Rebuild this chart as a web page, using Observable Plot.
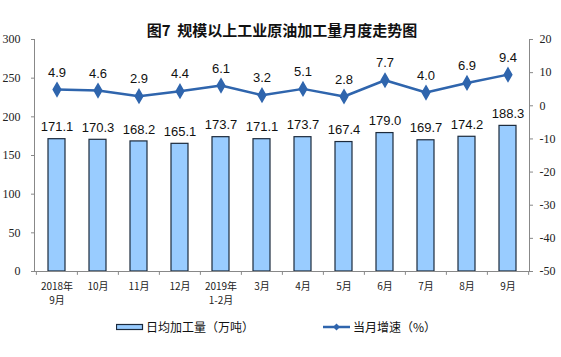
<!DOCTYPE html>
<html><head><meta charset="utf-8">
<script src="https://cdn.jsdelivr.net/npm/d3@7"></script>
<script src="https://cdn.jsdelivr.net/npm/@observablehq/plot@0.6"></script>
<style>
body{margin:0;background:#fff;}
#wrap{position:relative;width:561px;height:357px;}
.lg{position:absolute;top:318px;font-family:"Noto Sans CJK SC",sans-serif;font-size:12px;color:#111;display:flex;align-items:center;white-space:nowrap;}
</style>
</head><body>
<div id="wrap"></div>
<script>
const title = "图7  规模以上工业原油加工量月度走势图";
const categories = ["2018年\n9月","10月","11月","12月","2019年\n1-2月","3月","4月","5月","6月","7月","8月","9月"];
const dailyOutput = [171.1,170.3,168.2,165.1,173.7,171.1,173.7,167.4,179.0,169.7,174.2,188.3];
const growth = [4.9,4.6,2.9,4.4,6.1,3.2,5.1,2.8,7.7,4.0,6.9,9.4];
const leftTicks = [0,50,100,150,200,250,300];
const rightTicks = [-50,-40,-30,-20,-10,0,10,20];
const legendBar = "日均加工量（万吨）";
const legendLine = "当月增速（%）";

const data = categories.map((c,i)=>({cat:c, v:dailyOutput[i], g:growth[i]}));
const toLeft = g => (g + 50) * 300 / 70;
const toRight = v => v * 70 / 300 - 50;

const W = 561, H = 357, mL = 34, mR = 32, mT = 39, mB = 86;
const step = (W - mL - mR) / categories.length;
const barColor = "#99CCFF", barStroke = "#1c2a3c", lineColor = "#2F65AD";

const plot = Plot.plot({
  width: W, height: H,
  marginLeft: mL, marginRight: mR, marginTop: mT, marginBottom: mB,
  style: {fontFamily: "Liberation Serif, serif", fontSize: "12px", color: "#222", background: "#fff"},
  x: {domain: categories, paddingInner: 0.59, paddingOuter: 0.295, label: null},
  y: {domain: [0, 300], label: null},
  marks: [
    Plot.text([title], {frameAnchor: "top", dy: -14, fontSize: 15, fontWeight: 600, fontFamily: "Noto Sans CJK SC, sans-serif", fill: "#111"}),
    Plot.barY(data, {x: "cat", y: "v", fill: barColor, stroke: barStroke, strokeWidth: 1.2}),
    Plot.line(data, {x: "cat", y: d => toLeft(d.g), stroke: lineColor, strokeWidth: 2.5}),
    Plot.dot(data, {x: "cat", y: d => toLeft(d.g), symbol: "diamond", r: 4, fill: lineColor, stroke: lineColor}),
    Plot.text(data, {x: "cat", y: "v", text: d => d.v.toFixed(1), dy: -12, fontFamily: "Liberation Sans, Arial, sans-serif", fontSize: 13, fill: "#111"}),
    Plot.text(data, {x: "cat", y: d => toLeft(d.g), text: d => d.g.toFixed(1), dy: -17, fontFamily: "Liberation Sans, Arial, sans-serif", fontSize: 13, fill: "#111"}),
    Plot.axisY({anchor: "left", ticks: leftTicks, tickSize: 3, tickPadding: 11, stroke: "#888", label: null, fill: "#222"}),
    Plot.axisY({anchor: "right", ticks: rightTicks.map(toLeft), tickFormat: d => String(Math.round(toRight(d))), tickSize: 3, tickPadding: 7, stroke: "#888", label: null, textAnchor: "start", fill: "#222"}),
    Plot.axisX({anchor: "bottom", tickSize: 0, tickPadding: 8, fontFamily: "Noto Sans CJK SC, sans-serif", fontSize: 10, fill: "#222", label: null, lineHeight: 1.46}),
    Plot.ruleY([0], {stroke: "#888"}),
    Plot.ruleX(data, {x: "cat", dx: -step/2, y1: 0, y2: -5, stroke: "#888"}),
    Plot.ruleX([categories[categories.length-1]], {dx: step/2, y1: 0, y2: -5, stroke: "#888"}),
    Plot.frame({anchor: "left", stroke: "#888"}),
    Plot.frame({anchor: "right", stroke: "#888"})
  ]
});
const wrap = document.getElementById("wrap");
wrap.appendChild(plot);

const lg1 = document.createElement("div");
lg1.className = "lg"; lg1.style.left = "116px";
lg1.innerHTML = `<svg width="28" height="8" style="margin-right:2px"><rect x="0.5" y="1.5" width="26" height="5" fill="${barColor}" stroke="${barStroke}" stroke-width="1.2"/></svg><span></span>`;
lg1.querySelector("span").textContent = legendBar;
wrap.appendChild(lg1);

const lg2 = document.createElement("div");
lg2.className = "lg"; lg2.style.left = "323px";
lg2.innerHTML = `<svg width="28" height="10" style="margin-right:2px"><line x1="0" y1="5" x2="27" y2="5" stroke="${lineColor}" stroke-width="2.5"/><path d="M13.5,1.5 L17,5 L13.5,8.5 L10,5 Z" fill="${lineColor}"/></svg><span></span>`;
lg2.querySelector("span").textContent = legendLine;
wrap.appendChild(lg2);
</script>
</body></html>
